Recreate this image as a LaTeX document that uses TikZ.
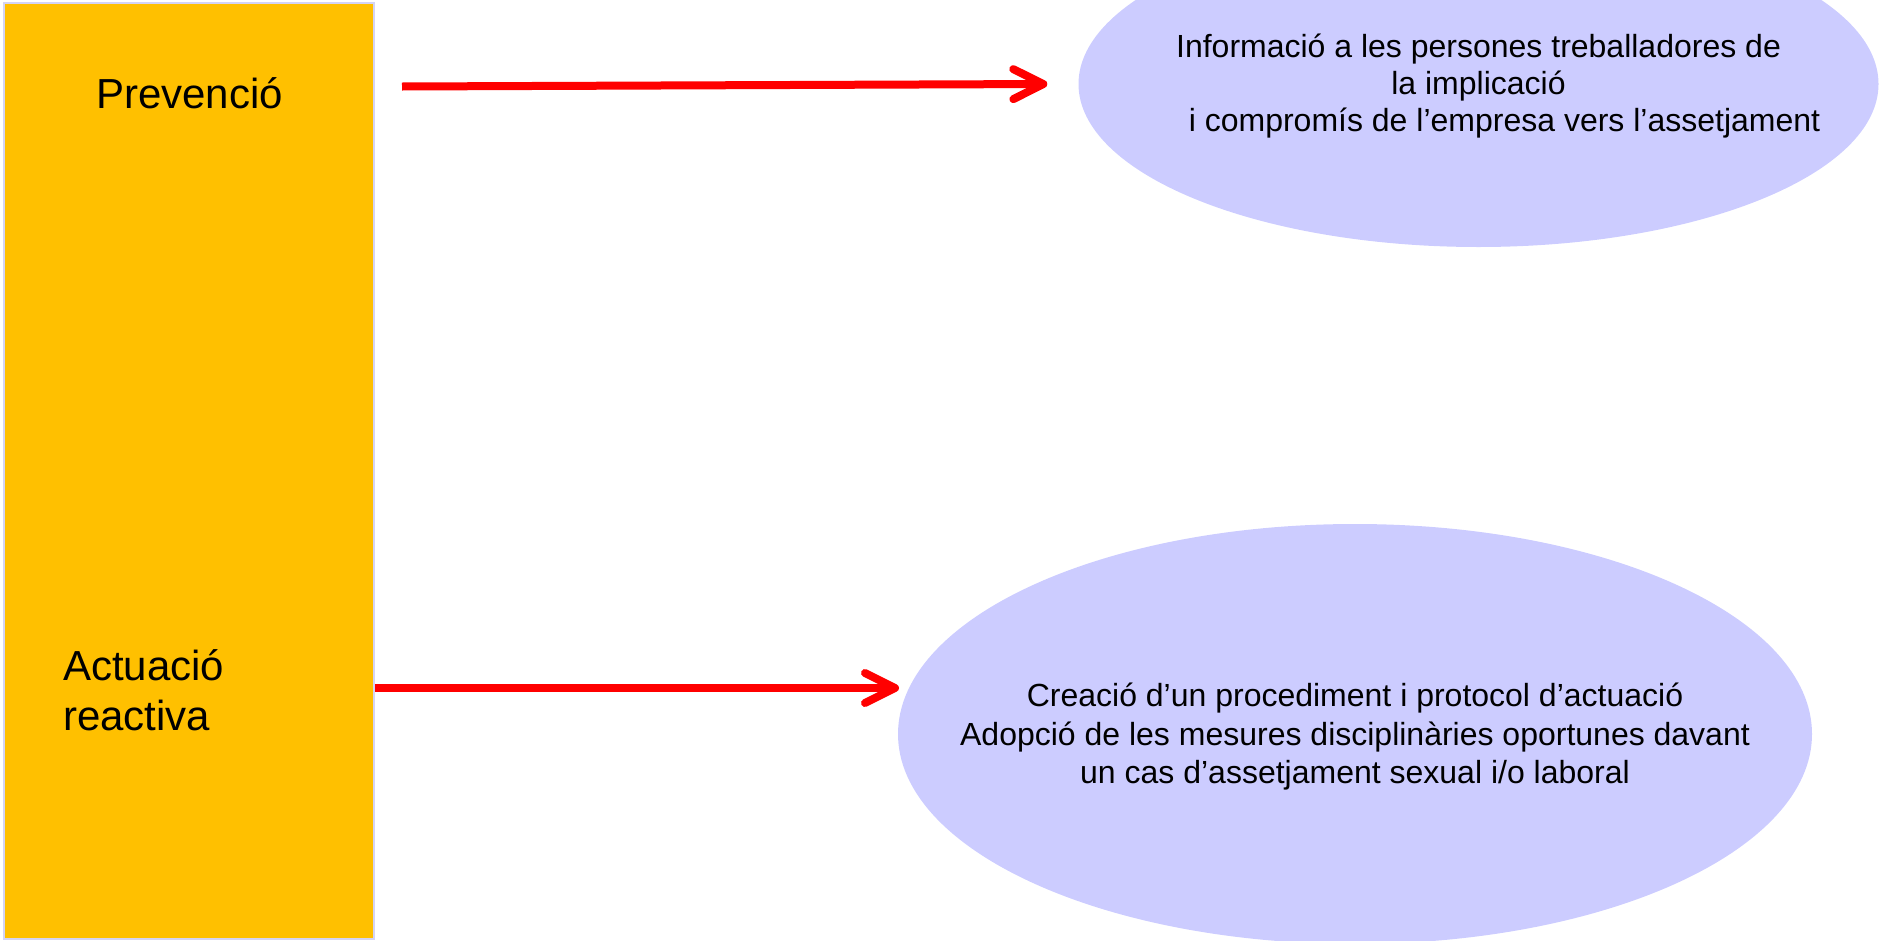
\documentclass[tikz,border=0pt]{standalone}
\usepackage{fontspec}
\setmainfont{Liberation Sans}
\usetikzlibrary{arrows.meta,shapes.geometric}
\definecolor{boxorange}{HTML}{FFC000}
\definecolor{lav}{HTML}{CCCCFF}
\definecolor{lavedge}{HTML}{D4D4F4}
\begin{document}
\begin{tikzpicture}[x=1pt,y=-1pt,
  redarrow/.style={draw=red, line width=8pt, -{Straight Barb[length=30pt,width=30pt,line cap=round,line join=round]}},
  bubble/.style={ellipse, fill=lav, inner sep=0pt},
  bubbletext/.style={inner sep=0pt, align=center},
  sidetext/.style={inner sep=0pt, font=\fontsize{42}{50}\selectfont, align=left}
]
\useasboundingbox (0,0) rectangle (1881,940);
\clip (0,0) rectangle (1881,940);
\node[draw=lavedge, line width=2pt, fill=boxorange, minimum width=370pt, minimum height=936pt, anchor=north west, inner sep=0pt] (bar) at (3,2) {};
\node[sidetext, anchor=base west] (prev) at (96,108) {Prevenció};
\node[sidetext, anchor=base west] (act) at (63,730) {Actuació\\reactiva};
\node[bubble, minimum width=800pt, minimum height=326pt] (topell) at (1478.5,84) {};
\node[bubble, minimum width=914pt, minimum height=420pt] (botell) at (1355,734) {};
\node[bubbletext, font=\fontsize{32}{37}\selectfont] (topt) at (1478.5,86) {Informació a les persones treballadores de\\la implicació\\\hspace*{52pt}i compromís de l’empresa vers l’assetjament};
\node[bubbletext, font=\fontsize{32}{38.5}\selectfont] (bott) at (1355,737) {Creació d’un procediment i protocol d’actuació\\Adopció de les mesures disciplinàries oportunes davant\\un cas d’assetjament sexual i/o laboral};
\coordinate (p1) at (402,86.5);
\coordinate (p2) at (899,688);
\draw[redarrow] (p1) -- ([xshift=-31pt]topell.west);
\draw[redarrow] (bar.east |- p2) -- (p2);
\end{tikzpicture}
\end{document}
